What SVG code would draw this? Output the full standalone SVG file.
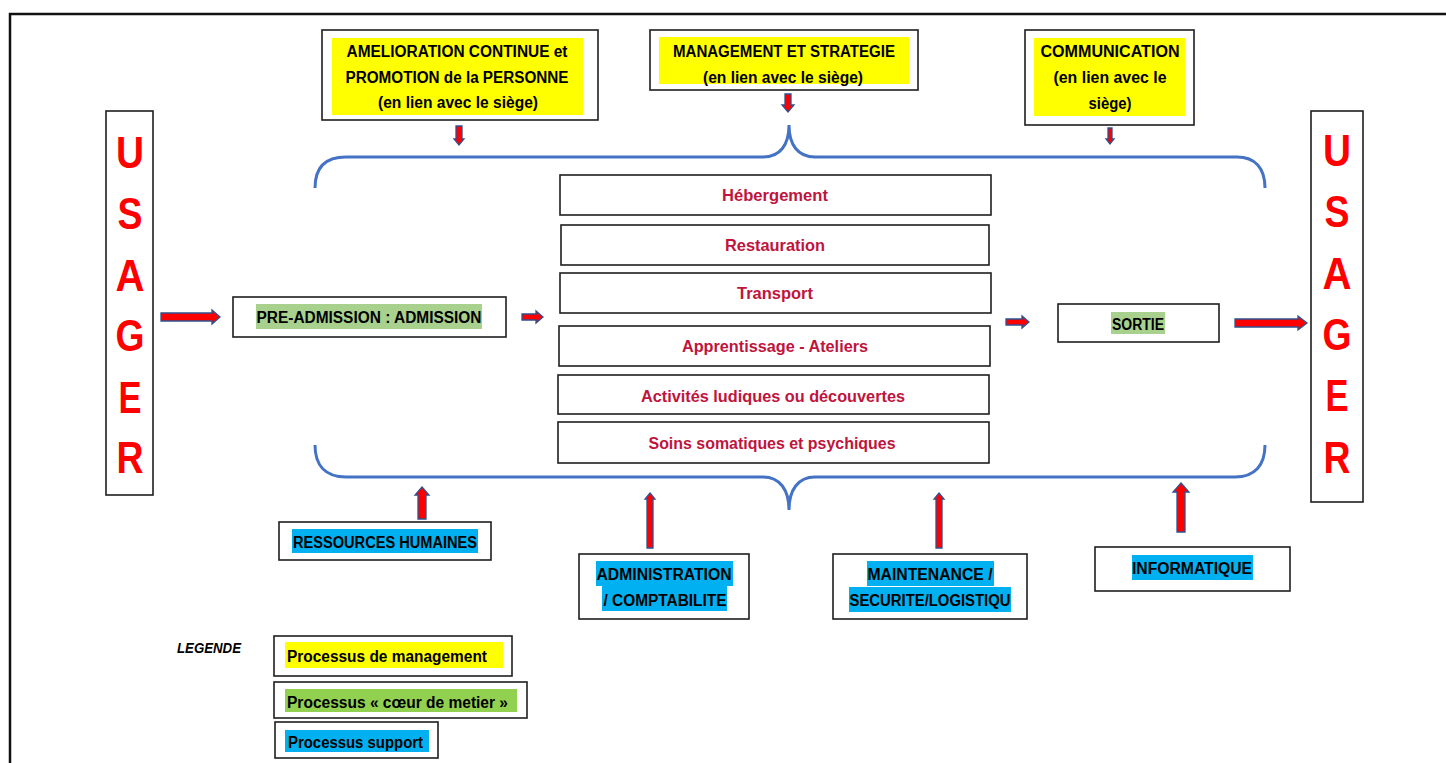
<svg xmlns="http://www.w3.org/2000/svg" width="1446" height="763" viewBox="0 0 1446 763">
<style>
.box{fill:#fff;stroke:#1f1f1f;stroke-width:1.6}
.t{font-family:'Liberation Sans',Arial,sans-serif;font-weight:bold;font-size:16px;text-anchor:middle;fill:#000}
.c{font-family:'Liberation Sans',Arial,sans-serif;font-weight:bold;font-size:16.5px;text-anchor:middle;fill:#C0143C}
.u{font-family:'Liberation Sans',Arial,sans-serif;font-weight:bold;font-size:45px;text-anchor:middle;fill:#FF0000}
.y{fill:#FFFF00}
.g{fill:#A9D18E}
.g2{fill:#92D050}
.b{fill:#00B0F0}
.arr{fill:#FF0000;stroke:#2F528F;stroke-width:1.3;stroke-linejoin:miter}
.brace{fill:none;stroke:#4472C4;stroke-width:3}
</style>
<rect x="10" y="14" width="1450" height="760" fill="none" stroke="#111" stroke-width="2.5"/>

<g id="mgmt-amelioration">
<rect class="box" x="322" y="30" width="276" height="90"/>
<rect class="y" x="332" y="38" width="251" height="77"/>
<text class="t" x="457" y="57" textLength="221" lengthAdjust="spacingAndGlyphs">AMELIORATION CONTINUE et</text>
<text class="t" x="457" y="83" textLength="223" lengthAdjust="spacingAndGlyphs">PROMOTION de la PERSONNE</text>
<text class="t" x="458" y="108" textLength="160" lengthAdjust="spacingAndGlyphs">(en lien avec le siège)</text>
</g>
<g id="mgmt-strategie">
<rect class="box" x="650" y="30" width="268" height="60"/>
<rect class="y" x="659" y="37" width="250" height="47"/>
<text class="t" x="784" y="57" textLength="222" lengthAdjust="spacingAndGlyphs">MANAGEMENT ET STRATEGIE</text>
<text class="t" x="783" y="83" textLength="160" lengthAdjust="spacingAndGlyphs">(en lien avec le siège)</text>
</g>
<g id="mgmt-communication">
<rect class="box" x="1025" y="30" width="169" height="95"/>
<rect class="y" x="1034" y="38" width="151" height="78"/>
<text class="t" x="1110" y="57" textLength="139" lengthAdjust="spacingAndGlyphs">COMMUNICATION</text>
<text class="t" x="1110" y="83" textLength="113" lengthAdjust="spacingAndGlyphs">(en lien avec le</text>
<text class="t" x="1110" y="109" textLength="43" lengthAdjust="spacingAndGlyphs">siège)</text>
</g>

<g id="usager-left">
<rect class="box" x="106" y="111" width="47" height="384"/>
<text class="u" x="130" y="168" textLength="28" lengthAdjust="spacingAndGlyphs">U</text>
<text class="u" x="130" y="229" textLength="25" lengthAdjust="spacingAndGlyphs">S</text>
<text class="u" x="130" y="291" textLength="29" lengthAdjust="spacingAndGlyphs">A</text>
<text class="u" x="130" y="351" textLength="29" lengthAdjust="spacingAndGlyphs">G</text>
<text class="u" x="130" y="413" textLength="23" lengthAdjust="spacingAndGlyphs">E</text>
<text class="u" x="130" y="473" textLength="27" lengthAdjust="spacingAndGlyphs">R</text>
</g>
<g id="usager-right">
<rect class="box" x="1311" y="111" width="52" height="391"/>
<text class="u" x="1337" y="166" textLength="28" lengthAdjust="spacingAndGlyphs">U</text>
<text class="u" x="1337" y="227" textLength="25" lengthAdjust="spacingAndGlyphs">S</text>
<text class="u" x="1337" y="289" textLength="29" lengthAdjust="spacingAndGlyphs">A</text>
<text class="u" x="1337" y="350" textLength="29" lengthAdjust="spacingAndGlyphs">G</text>
<text class="u" x="1337" y="411" textLength="23" lengthAdjust="spacingAndGlyphs">E</text>
<text class="u" x="1337" y="473" textLength="27" lengthAdjust="spacingAndGlyphs">R</text>
</g>

<g id="pre-admission">
<rect class="box" x="233" y="297" width="273" height="40"/>
<rect class="g" x="256" y="304" width="226" height="25"/>
<text class="t" x="369" y="323" textLength="225" lengthAdjust="spacingAndGlyphs">PRE-ADMISSION : ADMISSION</text>
</g>
<g id="sortie">
<rect class="box" x="1058" y="304" width="161" height="38"/>
<rect class="g" x="1111" y="312" width="54" height="22"/>
<text class="t" x="1138" y="330" textLength="52" lengthAdjust="spacingAndGlyphs">SORTIE</text>
</g>

<g id="hebergement">
<rect class="box" x="560" y="175" width="431" height="40"/>
<text class="c" x="775" y="201" textLength="106" lengthAdjust="spacingAndGlyphs">Hébergement</text>
</g>
<g id="restauration">
<rect class="box" x="561" y="225" width="428" height="40"/>
<text class="c" x="775" y="251" textLength="100" lengthAdjust="spacingAndGlyphs">Restauration</text>
</g>
<g id="transport">
<rect class="box" x="560" y="273" width="431" height="40"/>
<text class="c" x="775" y="299" textLength="76" lengthAdjust="spacingAndGlyphs">Transport</text>
</g>
<g id="apprentissage">
<rect class="box" x="559" y="326" width="431" height="40"/>
<text class="c" x="775" y="352" textLength="186" lengthAdjust="spacingAndGlyphs">Apprentissage - Ateliers</text>
</g>
<g id="activites">
<rect class="box" x="558" y="375" width="431" height="39"/>
<text class="c" x="773" y="402" textLength="264" lengthAdjust="spacingAndGlyphs">Activités ludiques ou découvertes</text>
</g>
<g id="soins">
<rect class="box" x="558" y="422" width="431" height="41"/>
<text class="c" x="772" y="449" textLength="247" lengthAdjust="spacingAndGlyphs">Soins somatiques et psychiques</text>
</g>

<g id="rh">
<rect class="box" x="279" y="522" width="212" height="38"/>
<rect class="b" x="292" y="529" width="186" height="24"/>
<text class="t" x="385" y="548" textLength="184" lengthAdjust="spacingAndGlyphs">RESSOURCES HUMAINES</text>
</g>
<g id="administration">
<rect class="box" x="579" y="554" width="170" height="65"/>
<rect class="b" x="596" y="561" width="137" height="25"/>
<rect class="b" x="602" y="586" width="125" height="25"/>
<text class="t" x="664" y="580" textLength="135" lengthAdjust="spacingAndGlyphs">ADMINISTRATION</text>
<text class="t" x="665" y="606" textLength="123" lengthAdjust="spacingAndGlyphs">/ COMPTABILITE</text>
</g>
<g id="maintenance">
<rect class="box" x="833" y="554" width="194" height="65"/>
<rect class="b" x="867" y="561" width="127" height="25"/>
<rect class="b" x="849" y="587" width="162" height="25"/>
<text class="t" x="930" y="580" textLength="125" lengthAdjust="spacingAndGlyphs">MAINTENANCE /</text>
<text class="t" x="930" y="606" textLength="161" lengthAdjust="spacingAndGlyphs">SECURITE/LOGISTIQU</text>
</g>
<g id="informatique">
<rect class="box" x="1095" y="547" width="195" height="44"/>
<rect class="b" x="1132" y="555" width="121" height="25"/>
<text class="t" x="1192" y="574" textLength="120" lengthAdjust="spacingAndGlyphs">INFORMATIQUE</text>
</g>

<g id="legende">
<text x="177" y="653" font-family="'Liberation Sans',Arial,sans-serif" font-weight="bold" font-style="italic" font-size="15" textLength="64" lengthAdjust="spacingAndGlyphs">LEGENDE</text>
<rect class="box" x="274" y="636" width="238" height="40"/>
<rect class="y" x="285" y="642" width="218" height="26"/>
<text class="t" x="287" y="662" style="text-anchor:start" textLength="200" lengthAdjust="spacingAndGlyphs">Processus de management</text>
<rect class="box" x="274" y="682" width="253" height="36"/>
<rect class="g2" x="285" y="689" width="232" height="23"/>
<text class="t" x="287" y="708" style="text-anchor:start" textLength="221" lengthAdjust="spacingAndGlyphs">Processus « cœur de metier »</text>
<rect class="box" x="275" y="722" width="163" height="36"/>
<rect class="b" x="285" y="730" width="144" height="22"/>
<text class="t" x="288" y="748" style="text-anchor:start" textLength="135" lengthAdjust="spacingAndGlyphs">Processus support</text>
</g>

<g id="connectors">
<path class="brace" d="M315,188 C315,168 325,157 346,157 L763,157 C780,157 789,145 789,125 C789,145 798,157 815,157 L1237,157 C1255,157 1265,168 1265,188"/>
<path class="brace" d="M315,445 C315,465 325,477 346,477 L763,477 C780,477 789,490 789,510 C789,490 798,477 815,477 L1235,477 C1255,477 1265,465 1265,445"/>
<polygon class="arr" points="161,313 212,313 212,310 220,317 212,324 212,321 161,321"/>
<polygon class="arr" points="522,314 536,314 536,311 543,317 536,323 536,320 522,320"/>
<polygon class="arr" points="1006,319 1022,319 1022,316 1029,322 1022,328 1022,325 1006,325"/>
<polygon class="arr" points="1235,319 1298,319 1298,316 1307,323 1298,330 1298,327 1235,327"/>
<polygon class="arr" points="456,126 462,126 462,139 464,139 459,145 454,139 456,139"/>
<polygon class="arr" points="785,94 791,94 791,105 794,105 788,112 782,105 785,105"/>
<polygon class="arr" points="1108,128 1112,128 1112,139 1114,139 1110,144 1106,139 1108,139"/>
<polygon class="arr" points="422,487 429,495 426,495 426,519 418,519 418,495 415,495"/>
<polygon class="arr" points="650,493 655,499 653,499 653,548 647,548 647,499 645,499"/>
<polygon class="arr" points="939,493 944,499 942,499 942,548 936,548 936,499 934,499"/>
<polygon class="arr" points="1181,483 1189,492 1185,492 1185,532 1177,532 1177,492 1173,492"/>
</g>
</svg>
